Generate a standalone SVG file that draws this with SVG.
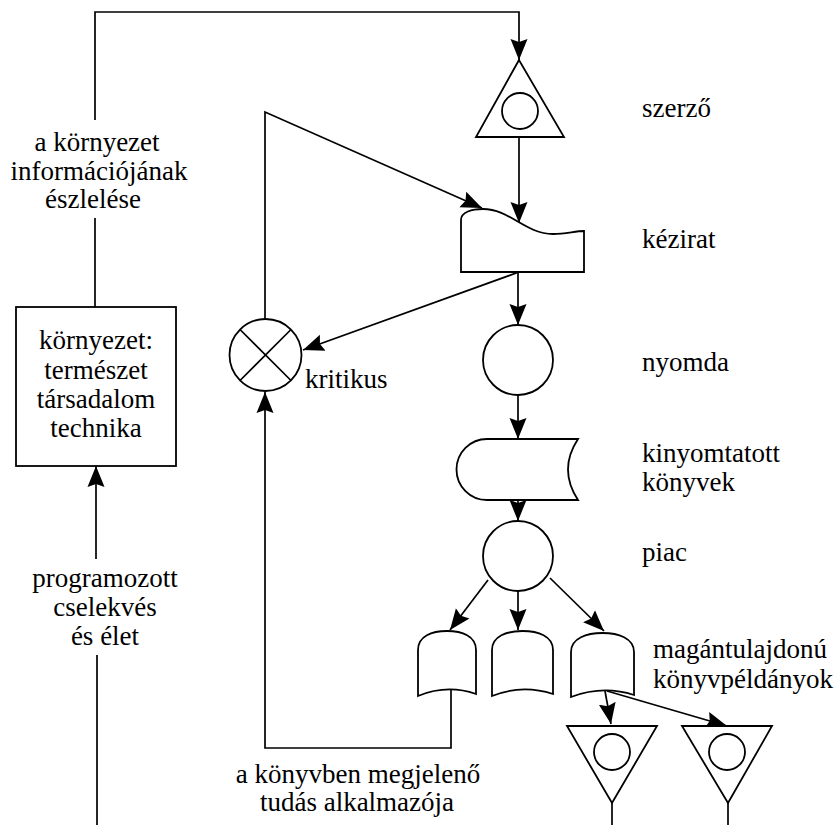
<svg xmlns="http://www.w3.org/2000/svg" width="838" height="825" viewBox="0 0 838 825">
<style>
  .s { fill: #fff; stroke: #000; stroke-width: 1.8; }
  .c { fill: none; stroke: #000; stroke-width: 1.7; }
  .ca { fill: none; stroke: #000; stroke-width: 1.7; marker-end: url(#ah); }
  text { font-family: "Liberation Serif", "Times New Roman", serif; font-size: 27px; fill: #000; }
  .m { text-anchor: middle; }
</style>
<defs>
  <marker id="ah" markerUnits="userSpaceOnUse" markerWidth="22" markerHeight="19" viewBox="0 0 22 19" refX="21" refY="9.5" orient="auto">
    <path d="M0,1 L21,9.5 L0,18 L3,9.5 Z" fill="#000"/>
  </marker>
</defs>
<rect width="838" height="825" fill="#fff"/>

<g id="connectors">
  <path class="c" d="M95,307 L95,218"/>
  <path class="ca" d="M95,120 L95,12 L519,12 L519,60"/>
  <path class="c" d="M97,825 L97,655"/>
  <path class="ca" d="M96,559 L96,466"/>
  <path class="ca" d="M519,137 L519,223"/>
  <path class="ca" d="M265,319 L265,112 L482,208"/>
  <path class="ca" d="M519,272 L303,350"/>
  <path class="ca" d="M451,690 L451,748 L265,748 L265,392"/>
  <path class="ca" d="M518,272 L518,325"/>
  <path class="ca" d="M518,395 L518,439"/>
  <path class="ca" d="M518,500 L518,521"/>
  <path class="ca" d="M488,580 L450,630"/>
  <path class="ca" d="M518,591 L518,630"/>
  <path class="ca" d="M550,578 L604,631"/>
  <path class="ca" d="M605,691 L611,724"/>
  <path class="ca" d="M607,691 L727,726"/>
  <path class="c" d="M612,803 L612,825"/>
  <path class="c" d="M728,803 L728,825"/>
</g>

<g id="label-perception">
  <text class="m" x="97" y="151">a környezet</text>
  <text class="m" x="99" y="180">információjának</text>
  <text class="m" x="93" y="208">észlelése</text>
</g>

<g id="environment">
  <rect class="s" x="16" y="307" width="160" height="159"/>
  <text class="m" x="96" y="349">környezet:</text>
  <text class="m" x="96" y="379">természet</text>
  <text class="m" x="96" y="408">társadalom</text>
  <text class="m" x="96" y="437">technika</text>
</g>

<g id="label-action">
  <text class="m" x="105" y="587">programozott</text>
  <text class="m" x="105" y="616">cselekvés</text>
  <text class="m" x="105" y="645">és élet</text>
</g>

<g id="author">
  <polygon class="s" points="519,60 476,137 564,137"/>
  <circle class="s" cx="520" cy="111" r="18"/>
  <text x="642" y="117">szerző</text>
</g>

<g id="manuscript">
  <path class="s" d="M461,272 L461,220 C461,212 472,209 483,209 C510,209 525,234 553,234 C566,234 575,231 584,231 L584,272 Z"/>
  <text x="642" y="248">kézirat</text>
</g>

<g id="critic">
  <circle class="s" cx="265.5" cy="355" r="36"/>
  <path class="c" d="M240,329.5 L291,380.5 M291,329.5 L240,380.5"/>
  <text x="305" y="388">kritikus</text>
</g>

<g id="printing">
  <circle class="s" cx="518" cy="360" r="35"/>
  <text x="642" y="371">nyomda</text>
</g>

<g id="printed-books">
  <path class="s" d="M487,439 L578,439 Q558,469.5 578,500 L487,500 A30.5,30.5 0 0 1 487,439 Z"/>
  <text x="642" y="462">kinyomtatott</text>
  <text x="642" y="491">könyvek</text>
</g>

<g id="market">
  <circle class="s" cx="518" cy="556" r="35"/>
  <text x="642" y="561">piac</text>
</g>

<g id="copy1">
  <path class="s" d="M418,696 L418,650 C418,636 432,631 447,631 C462,631 476,636 476,650 L476,694 Q447,684 418,696 Z"/>
</g>
<g id="copy2">
  <path class="s" d="M492,696 L492,650 C492,636 507,631 522.5,631 C538,631 553,636 553,650 L553,694 Q522,684 492,696 Z"/>
</g>
<g id="copy3">
  <path class="s" d="M571,697 L571,652 C571,638 587,633 602.5,633 C618,633 634,638 634,652 L634,695 Q603,685 571,697 Z"/>
  <text x="653" y="658">magántulajdonú</text>
  <text x="653" y="688">könyvpéldányok</text>
</g>

<g id="label-user">
  <text class="m" x="358" y="783">a könyvben megjelenő</text>
  <text class="m" x="357" y="811">tudás alkalmazója</text>
</g>

<g id="reader1">
  <polygon class="s" points="567,726 657,726 612,803"/>
  <circle class="s" cx="612" cy="752" r="18"/>
</g>
<g id="reader2">
  <polygon class="s" points="682,726 772,726 728,803"/>
  <circle class="s" cx="727" cy="752" r="18"/>
</g>
</svg>
